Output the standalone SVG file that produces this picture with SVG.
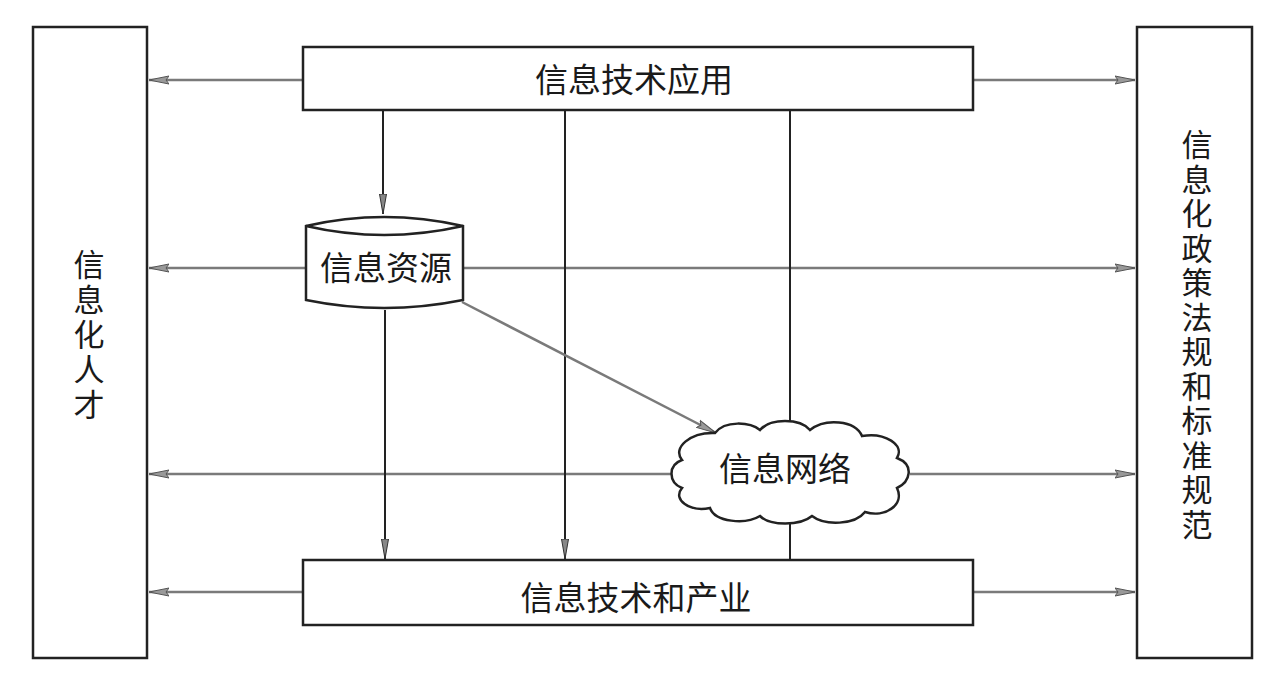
<svg xmlns="http://www.w3.org/2000/svg" width="1288" height="679" viewBox="0 0 1288 679">
<style>
.box{fill:#fff;stroke:#222;stroke-width:2.5}
.lbl{font-family:"Noto Sans CJK SC","Noto Sans",sans-serif;font-size:33px;fill:#1a1a1a;text-anchor:middle}
.vt{font-family:"Noto Sans CJK SC","Noto Sans",sans-serif;font-size:31px;fill:#1a1a1a;text-anchor:middle}
.h{stroke:#7a7a7a;stroke-width:2.5;fill:none}
.v{stroke:#222;stroke-width:2;fill:none}
</style>
<defs>
<marker id="ag" viewBox="0 0 20 10" refX="20" refY="5" markerWidth="20" markerHeight="10" markerUnits="userSpaceOnUse" orient="auto">
<path d="M0,1 L20,5 L0,9 L3,5 Z" fill="#999" stroke="#555" stroke-width="1"/>
</marker>
<marker id="ad" viewBox="0 0 20 10" refX="20" refY="5" markerWidth="20" markerHeight="10" markerUnits="userSpaceOnUse" orient="auto">
<path d="M0,1.5 L20,5 L0,8.5 Z" fill="#888" stroke="#333" stroke-width="1"/>
</marker>
</defs>
<rect width="1288" height="679" fill="#fff"/>
<g id="connectors">
<line class="h" x1="303" y1="80" x2="149" y2="80" marker-end="url(#ag)"/>
<line class="h" x1="973" y1="80" x2="1135" y2="80" marker-end="url(#ag)"/>
<line class="h" x1="306" y1="268" x2="149" y2="268" marker-end="url(#ag)"/>
<line class="h" x1="463" y1="268" x2="1135" y2="268" marker-end="url(#ag)"/>
<line class="h" x1="672" y1="474" x2="149" y2="474" marker-end="url(#ag)"/>
<line class="h" x1="910" y1="474" x2="1135" y2="474" marker-end="url(#ag)"/>
<line class="h" x1="303" y1="592" x2="149" y2="592" marker-end="url(#ag)"/>
<line class="h" x1="973" y1="592" x2="1135" y2="592" marker-end="url(#ag)"/>
<line class="v" x1="383" y1="111" x2="383" y2="214" marker-end="url(#ad)"/>
<line class="v" x1="385" y1="310" x2="385" y2="559" marker-end="url(#ad)"/>
<line class="v" x1="565" y1="111" x2="565" y2="559" marker-end="url(#ad)"/>
<line class="v" x1="790" y1="111" x2="790" y2="560"/>
<line class="h" x1="462" y1="302" x2="716" y2="433" marker-end="url(#ag)"/>
</g>
<g id="talent">
<rect class="box" x="33" y="27" width="114" height="631"/>
<text class="vt"><tspan x="89" y="276">信</tspan><tspan x="89" y="311">息</tspan><tspan x="89" y="346">化</tspan><tspan x="89" y="381">人</tspan><tspan x="89" y="416">才</tspan></text>
</g>
<g id="policy">
<rect class="box" x="1137" y="27" width="115" height="631"/>
<text class="vt"><tspan x="1197" y="156">信</tspan><tspan x="1197" y="190.5">息</tspan><tspan x="1197" y="225">化</tspan><tspan x="1197" y="259.5">政</tspan><tspan x="1197" y="294">策</tspan><tspan x="1197" y="328.5">法</tspan><tspan x="1197" y="363">规</tspan><tspan x="1197" y="397.5">和</tspan><tspan x="1197" y="432">标</tspan><tspan x="1197" y="466.5">准</tspan><tspan x="1197" y="501">规</tspan><tspan x="1197" y="535.5">范</tspan></text>
</g>
<g id="app">
<rect class="box" x="303" y="47" width="670" height="63"/>
<text class="lbl" x="634" y="92">信息技术应用</text>
</g>
<g id="industry">
<rect class="box" x="303" y="560" width="670" height="65"/>
<text class="lbl" x="636" y="610">信息技术和产业</text>
</g>
<g id="resource">
<path class="box" d="M306,226 L306,300 Q384,316 463,300 L463,226 Q384,208 306,226 Z"/>
<path class="box" fill="none" d="M306,226 Q384,244 463,226"/>
<text class="lbl" x="386" y="280">信息资源</text>
</g>
<g id="network">
<path class="box" d="M715,433 C725,420 750,422 760,430 C770,418 800,418 810,430 C825,418 855,420 862,436 C885,432 905,445 897,458 C915,465 910,482 897,488 C905,505 885,518 865,512 C855,525 825,526 812,516 C800,526 770,526 760,516 C745,525 715,522 710,508 C690,512 672,500 682,488 C668,482 668,465 682,460 C672,448 690,432 715,433 Z"/>
<text class="lbl" x="785" y="481">信息网络</text>
</g>
</svg>
